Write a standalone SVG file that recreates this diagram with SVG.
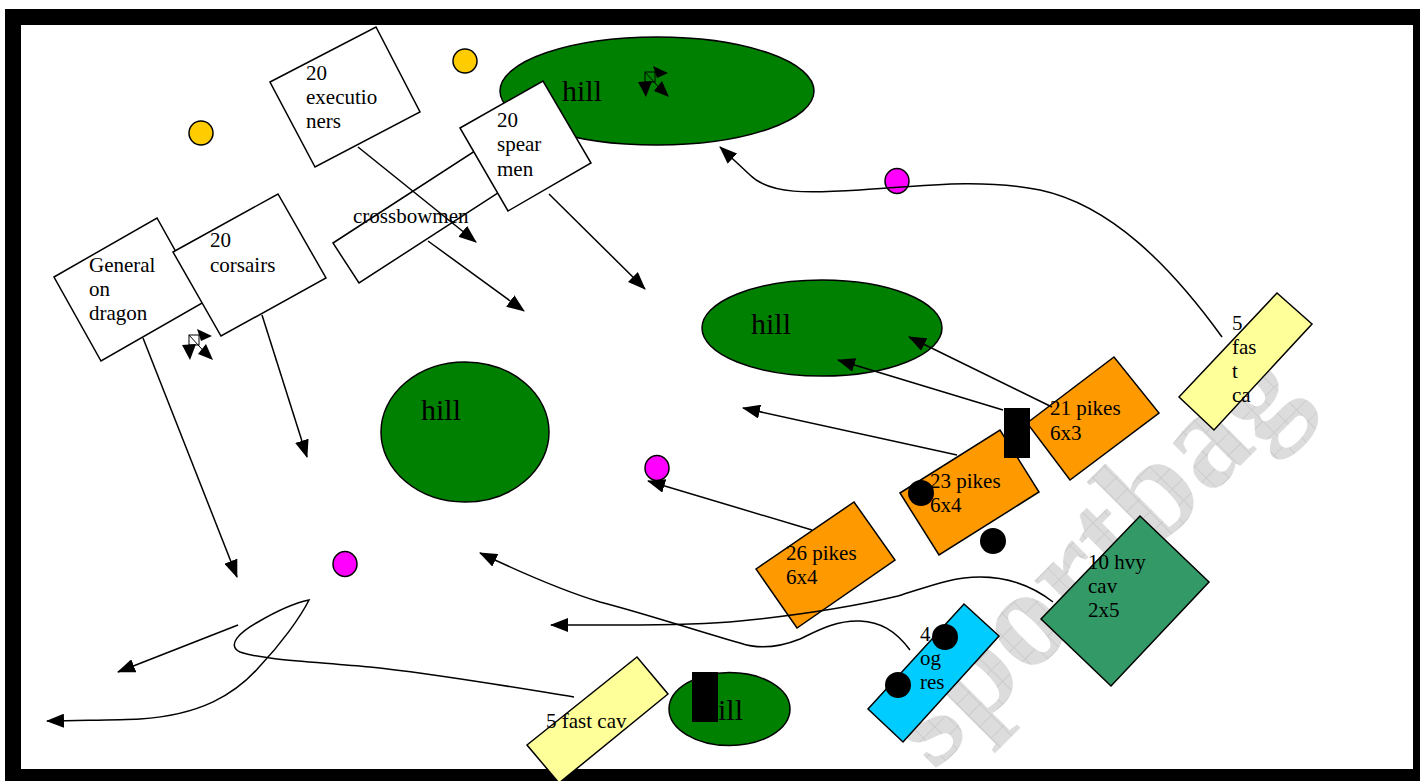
<svg xmlns="http://www.w3.org/2000/svg" xmlns:xlink="http://www.w3.org/1999/xlink" width="1420" height="781" viewBox="0 0 1420 781">
  <style>
    .box { stroke: #000; stroke-width: 1.5; stroke-linejoin: miter; }
    .hill { fill: #008000; stroke: #000; stroke-width: 1.5; }
    .lbl { font-family: "Liberation Serif", "Times New Roman", serif; font-size: 21px; fill: #000; }
    .big { font-size: 30px; }
    .con { fill: none; stroke: #000; stroke-width: 1.5; marker-end: url(#ah); }
    .dot { fill: #000; }
    .gold { fill: #FFCC00; stroke: #000; stroke-width: 1.5; }
    .mag { fill: #FF00FF; stroke: #000; stroke-width: 1.5; }
    .wm { font-family: "Liberation Serif", "Times New Roman", serif; font-size: 140px; font-weight: bold; fill: url(#grid); }
  </style>
  <defs>
    <marker id="ah" viewBox="0 0 18 14" refX="17" refY="7" markerWidth="18" markerHeight="14" markerUnits="userSpaceOnUse" orient="auto">
      <path d="M0,0 L18,7 L0,14 Z" fill="#000"/>
    </marker>
    <pattern id="grid" width="16" height="16" patternUnits="userSpaceOnUse">
      <rect width="16" height="16" fill="#dcdcdc"/>
      <path d="M0,0.5 H16 M0.5,0 V16" stroke="#c8c8c8" stroke-width="0.8" fill="none"/>
    </pattern>
    <clipPath id="inner">
      <rect x="21" y="25" width="1392" height="744"/>
    </clipPath>
    <!-- small four-way movement mark -->
    <g id="moveMark">
      <rect x="-8" y="-10" width="10" height="10" fill="none" stroke="#000" stroke-width="1"/>
      <path d="M-8,-10 L12,12" stroke="#000" stroke-width="1"/>
      <path d="M0,-16 L15,-9 L4,-4 Z" fill="#000"/>
      <path d="M-15,0 L-1,-1 L-7,15 Z" fill="#000"/>
      <path d="M1,9 L9,-1 L16,15 Z" fill="#000"/>
    </g>
  </defs>

  <!-- frame -->
  <rect x="0" y="0" width="1420" height="781" fill="#fff"/>
  <rect x="5" y="9" width="1420" height="780" fill="#000"/>
  <rect x="21" y="25" width="1392" height="744" fill="#fff"/>

  <!-- watermark -->
  <g clip-path="url(#inner)">
    <text class="wm" transform="translate(934,772) rotate(-45)">sportbag</text>
  </g>

  <!-- terrain -->
  <g id="hill-north">
    <ellipse class="hill" cx="657" cy="91" rx="157" ry="54"/>
    <text class="lbl big" x="562" y="101">hill</text>
    <use href="#moveMark" transform="translate(653,82)"/>
  </g>
  <g id="hill-east">
    <ellipse class="hill" cx="822" cy="328" rx="120" ry="48"/>
    <text class="lbl big" x="751" y="334">hill</text>
  </g>
  <g id="hill-center">
    <ellipse class="hill" cx="465" cy="432" rx="84" ry="70"/>
    <text class="lbl big" x="421" y="420">hill</text>
  </g>
  <g id="hill-south">
    <ellipse class="hill" cx="729.5" cy="709" rx="60.5" ry="36.5"/>
    <text class="lbl big" x="703" y="720">hill</text>
    <rect x="692" y="672" width="26" height="50" fill="#000"/>
  </g>

  <!-- markers -->
  <g id="markers">
    <circle class="gold" cx="201" cy="133" r="12"/>
    <circle class="gold" cx="465" cy="61" r="12"/>
    <ellipse class="mag" cx="897" cy="181" rx="12" ry="12.5"/>
    <ellipse class="mag" cx="657" cy="468" rx="12" ry="12.5"/>
    <ellipse class="mag" cx="345" cy="564" rx="12" ry="12.5"/>
  </g>

  <!-- units, western side -->
  <g id="executioners">
    <polygon class="box" fill="#fff" points="270,82 376,27 420,112 315,167"/>
    <text class="lbl" x="306" y="80">20</text>
    <text class="lbl" x="306" y="104">executio</text>
    <text class="lbl" x="306" y="128">ners</text>
  </g>
  <g id="crossbowmen">
    <polygon class="box" fill="#fff" points="333,243 501,134 527,174 359,283"/>
    <text class="lbl" x="353" y="223">crossbowmen</text>
  </g>
  <g id="spearmen">
    <polygon class="box" fill="#fff" points="460,128 543,81 591,163 508,211"/>
    <text class="lbl" x="497" y="127">20</text>
    <text class="lbl" x="497" y="151">spear</text>
    <text class="lbl" x="497" y="176">men</text>
  </g>
  <g id="general">
    <polygon class="box" fill="#fff" points="54,277 157,218 204,302 101,361"/>
    <text class="lbl" x="89" y="272">General</text>
    <text class="lbl" x="89" y="296">on</text>
    <text class="lbl" x="89" y="320">dragon</text>
  </g>
  <g id="corsairs">
    <polygon class="box" fill="#fff" points="173,252 278,194 326,278 221,336"/>
    <text class="lbl" x="210" y="247">20</text>
    <text class="lbl" x="210" y="272">corsairs</text>
  </g>
  <use id="general-move" href="#moveMark" transform="translate(197,345)"/>

  <!-- units, eastern side -->
  <g id="pikes-21">
    <polygon class="box" fill="#FF9900" points="1027,423 1114,357 1159,413 1070,480"/>
    <text class="lbl" x="1050" y="415">21 pikes</text>
    <text class="lbl" x="1050" y="440">6x3</text>
  </g>
  <g id="pikes-23">
    <polygon class="box" fill="#FF9900" points="900,493 1000,430 1039,492 939,555"/>
    <text class="lbl" x="930" y="488">23 pikes</text>
    <text class="lbl" x="930" y="512">6x4</text>
    <circle class="dot" cx="921" cy="493" r="13"/>
  </g>
  <g id="pikes-banner">
    <rect x="1004" y="408" width="26" height="50" fill="#000"/>
  </g>
  <g id="pikes-26">
    <polygon class="box" fill="#FF9900" points="756,569 854,502 895,560 797,628"/>
    <text class="lbl" x="786" y="560">26 pikes</text>
    <text class="lbl" x="786" y="584">6x4</text>
  </g>
  <g id="lone-model">
    <circle class="dot" cx="993" cy="541" r="13"/>
  </g>
  <g id="heavy-cav">
    <polygon class="box" fill="#339966" points="1041,619 1140,516 1209,582 1111,686"/>
    <text class="lbl" x="1088" y="569">10 hvy</text>
    <text class="lbl" x="1088" y="593">cav</text>
    <text class="lbl" x="1088" y="617">2x5</text>
  </g>
  <g id="ogres">
    <polygon class="box" fill="#00CCFF" points="868,709 964,604 999,636 903,742"/>
    <text class="lbl" x="920" y="641">4</text>
    <text class="lbl" x="920" y="665">og</text>
    <text class="lbl" x="920" y="689">res</text>
    <circle class="dot" cx="945" cy="637" r="13"/>
    <circle class="dot" cx="898" cy="685" r="13"/>
  </g>
  <g id="fast-cav-east">
    <polygon class="box" fill="#FFFF99" points="1179,397 1277,293 1312,324 1214,430"/>
    <text class="lbl" x="1232" y="330">5</text>
    <text class="lbl" x="1232" y="354">fas</text>
    <text class="lbl" x="1232" y="378">t</text>
    <text class="lbl" x="1232" y="402">ca</text>
  </g>
  <g id="fast-cav-south">
    <polygon class="box" fill="#FFFF99" points="527,745 637,657 668,694 559,783"/>
    <text class="lbl" x="546" y="728">5 fast cav</text>
  </g>

  <!-- movement arrows -->
  <g id="connectors">
    <path class="con" d="M358,147 L476,242"/>
    <path class="con" d="M428,241 L524,311"/>
    <path class="con" d="M549,194 L645,289"/>
    <path class="con" d="M262,315 L307,457"/>
    <path class="con" d="M143,338 L237,577"/>
    <path class="con" d="M1052,407 L909,337"/>
    <path class="con" d="M1003,410 L838,360"/>
    <path class="con" d="M957,455 L743,408"/>
    <path class="con" d="M812,530 L648,481"/>
    <path class="con" d="M238,625 L118,672"/>
    <path class="con" d="M1222,337 C1170,265 1110,205 1040,190 C980,178 920,186 860,190 C810,193 770,195 750,175 L720,147"/>
    <path class="con" d="M1053,602 C1035,588 1010,577 980,577 C950,577 925,588 898,596 C860,605 800,615 740,621 C700,625 660,625 620,625 L551,625"/>
    <path class="con" d="M910,650 C895,630 880,622 860,621 C835,620 815,632 800,639 C780,647 760,650 740,643 C700,632 650,615 600,602 C560,590 520,572 480,553"/>
    <path class="con" d="M574,697 C500,685 430,673 370,667 C320,662 262,660 240,652 C226,645 240,632 258,622 C275,612 295,603 309,600 C300,618 280,645 260,666 C235,695 200,715 140,719 C120,720 100,720 47,721"/>
  </g>
</svg>
